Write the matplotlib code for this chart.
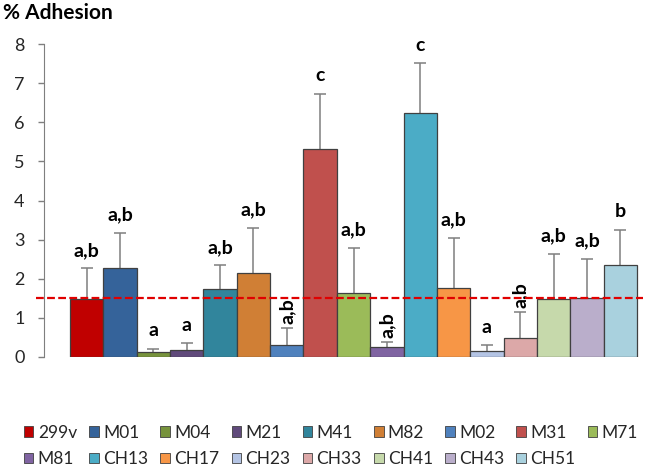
import matplotlib.pyplot as plt
from matplotlib.patches import Patch

# Data
strains = ['299v', 'M01', 'M04', 'M21', 'M41', 'M82', 'M02', 'M31', 'M71',
           'M81', 'CH13', 'CH17', 'CH23', 'CH33', 'CH41', 'CH43', 'CH51']
adhesion = [1.49, 2.27, 0.12, 0.16, 1.73, 2.15, 0.29, 5.33, 1.63,
            0.25, 6.24, 1.77, 0.15, 0.49, 1.48, 1.51, 2.36]
err_upper = [0.77, 0.91, 0.08, 0.18, 0.61, 1.15, 0.45, 1.41, 1.15,
             0.13, 1.27, 1.27, 0.14, 0.66, 1.16, 1.00, 0.89]
letters = ['a,b', 'a,b', 'a', 'a', 'a,b', 'a,b', 'a,b', 'c', 'a,b',
           'a,b', 'c', 'a,b', 'a', 'a,b', 'a,b', 'a,b', 'b']
rotated = ['M02', 'M81', 'CH33']
threshold = 1.5

colors = ['#C00000', '#35639A', '#77933C', '#604A7B', '#31859C', '#D07F35',
          '#4F81BD', '#C0504D', '#9BBB59', '#8064A2', '#4BACC6', '#F79646',
          '#B4C4E4', '#DCA8A8', '#C6D9AB', '#BAAECB', '#A9D1DE']

plt.rcParams['font.family'] = ['Lato', 'DejaVu Sans']

fig = plt.figure(figsize=(6.45, 4.69), dpi=100)
ax = fig.add_axes([0.0682, 0.2394, 0.9256, 0.6661])

x = range(len(strains))
ax.bar(x, adhesion, width=1.0, color=colors, edgecolor='#404040', linewidth=0.9, zorder=2)
eb = ax.errorbar(x, adhesion, yerr=[[0] * len(strains), err_upper], fmt='none',
                 ecolor='#7F7F7F', elinewidth=1.1, capsize=4, capthick=1.1, zorder=1)
eb[1][0].set_visible(False)  # no cap at the bar top

# significance letters
for i, name in enumerate(strains):
    top = adhesion[i] + err_upper[i]
    if name in rotated:
        ax.annotate(letters[i], (i, top), xytext=(0, 3), textcoords='offset points',
                    ha='center', va='bottom', rotation=90, fontsize=14, fontweight='bold')
    else:
        ax.annotate(letters[i], (i, top), xytext=(0, 9), textcoords='offset points',
                    ha='center', va='baseline', fontsize=14, fontweight='bold')

ax.axhline(threshold, xmin=-0.013, xmax=1.003, color='#E00000', lw=1.6,
           dashes=(3.5, 1.5), clip_on=False, zorder=3)

ax.set_xlim(-1.28, 16.62)
ax.set_ylim(0, 8)
ax.set_yticks(range(0, 9))
ax.set_xticks([])
for side in ['top', 'right', 'bottom']:
    ax.spines[side].set_visible(False)
ax.spines['left'].set_color('#7F7F7F')
ax.tick_params(axis='y', length=4, width=1, color='#7F7F7F', pad=10,
               labelsize=13, labelcolor='#262626')

fig.text(0.005, 0.972, '% Adhesion', fontsize=15, fontweight='bold', va='center')

# legend laid out row by row (9 on the first row, 8 on the second)
handles = [Patch(facecolor=c, edgecolor='#404040', linewidth=0.6) for c in colors]
order = []
for col in range(9):
    order.append(col)
    if col + 9 < len(strains):
        order.append(col + 9)
fig.legend([handles[k] for k in order], [strains[k] for k in order],
           loc='center', bbox_to_anchor=(0.513, 0.049), ncol=9, frameon=False,
           fontsize=12.5, handlelength=0.55, handleheight=0.55, handletextpad=0.25,
           columnspacing=0.7, labelspacing=0.6, labelcolor='#262626')

fig.savefig('out.png', dpi=100)
